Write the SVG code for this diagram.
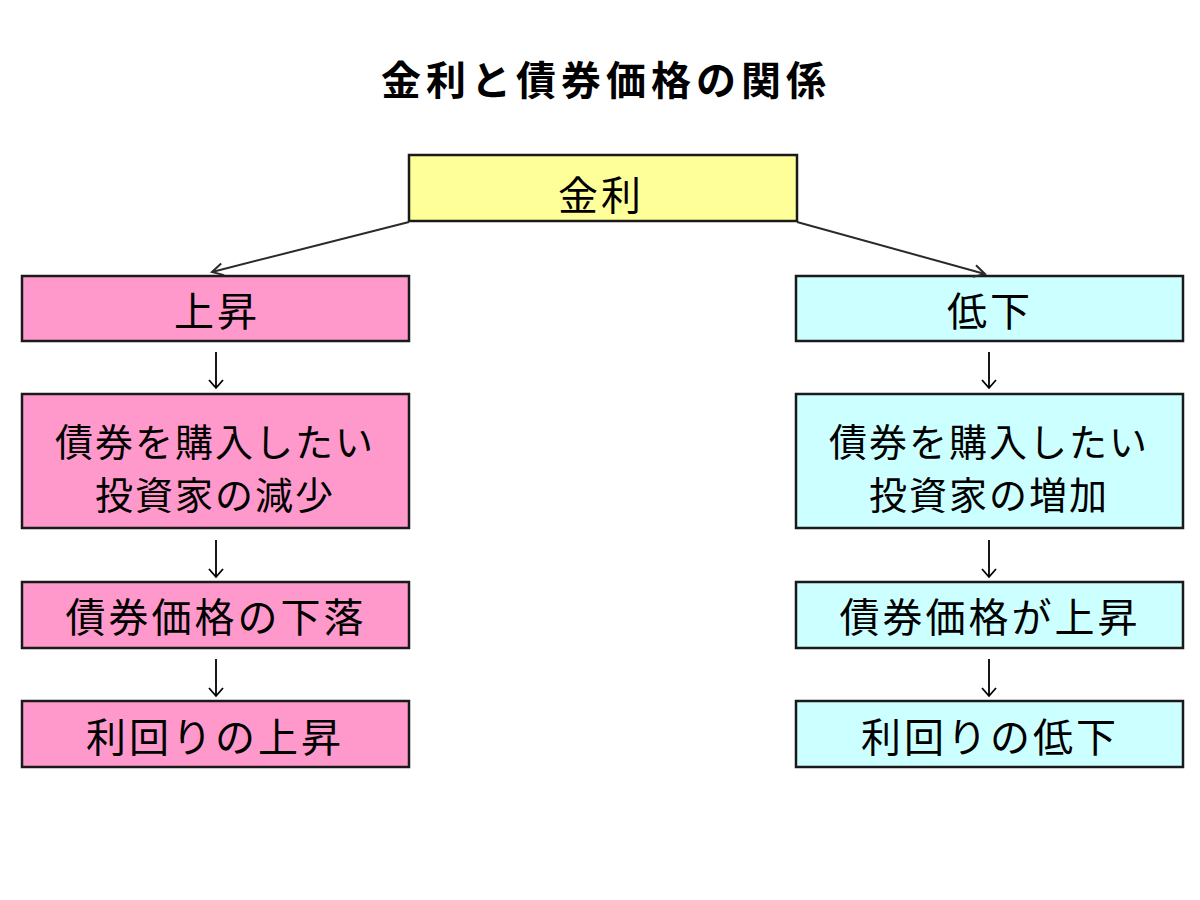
<svg xmlns="http://www.w3.org/2000/svg" width="1200" height="900" viewBox="0 0 1200 900">
<style>
.box{stroke:#1a1a1a;stroke-width:2.5}
.pink{fill:#FF99CC}
.cyan{fill:#CCFFFF}
.yellow{fill:#FFFF99}
.t{font-family:"Noto Sans CJK JP","Noto Sans CJK SC",sans-serif;font-size:40px;letter-spacing:3px;fill:#000;text-anchor:middle;dominant-baseline:central}
.t2{font-family:"Noto Sans CJK JP","Noto Sans CJK SC",sans-serif;font-size:38px;letter-spacing:2px;fill:#000;text-anchor:middle;dominant-baseline:central}
.title{font-family:"Noto Sans CJK JP","Noto Sans CJK SC",sans-serif;font-size:40px;font-weight:bold;letter-spacing:5px;fill:#000;text-anchor:middle;dominant-baseline:central}
.c{stroke:#2a2a2a;stroke-width:2;fill:none}
.s{stroke:#000;stroke-width:1.8;fill:none}
</style>
<defs>
<marker id="ah" markerWidth="16" markerHeight="16" refX="13" refY="8" orient="auto" markerUnits="userSpaceOnUse">
<path d="M2,2 L13,8 L2,14" fill="none" stroke="#2a2a2a" stroke-width="2"/>
</marker>
</defs>
<rect width="1200" height="900" fill="#fff"/>
<text class="title" x="606" y="78">金利と債券価格の関係</text>

<g id="n-kinri"><rect class="box yellow" x="409" y="155" width="388" height="66"/><text class="t" x="601" y="193">金利</text></g>

<g id="n-l1"><rect class="box pink" x="22" y="276" width="387" height="65"/><text class="t" x="217" y="309">上昇</text></g>
<g id="n-l2"><rect class="box pink" x="22" y="394" width="387" height="134"/><text class="t2" x="215" y="439">債券を購入したい</text><text class="t2" x="215" y="492">投資家の減少</text></g>
<g id="n-l3"><rect class="box pink" x="22" y="582" width="387" height="66"/><text class="t" x="216" y="615">債券価格の下落</text></g>
<g id="n-l4"><rect class="box pink" x="22" y="701" width="387" height="66"/><text class="t" x="215" y="735">利回りの上昇</text></g>

<g id="n-r1"><rect class="box cyan" x="796" y="276" width="387" height="65"/><text class="t" x="990" y="309">低下</text></g>
<g id="n-r2"><rect class="box cyan" x="796" y="394" width="387" height="134"/><text class="t2" x="989" y="439">債券を購入したい</text><text class="t2" x="989" y="492">投資家の増加</text></g>
<g id="n-r3"><rect class="box cyan" x="796" y="582" width="387" height="66"/><text class="t" x="990" y="615">債券価格が上昇</text></g>
<g id="n-r4"><rect class="box cyan" x="796" y="701" width="387" height="66"/><text class="t" x="990" y="735">利回りの低下</text></g>

<g id="connectors">
<line class="c" x1="409" y1="222" x2="212" y2="272" marker-end="url(#ah)"/>
<line class="c" x1="797" y1="222" x2="985" y2="274" marker-end="url(#ah)"/>
<path class="s" d="M216,352 V388 M209,380 L216,388 L223,380"/>
<path class="s" d="M216,540 V577 M209,569 L216,577 L223,569"/>
<path class="s" d="M216,659 V696 M209,688 L216,696 L223,688"/>
<path class="s" d="M989,352 V388 M982,380 L989,388 L996,380"/>
<path class="s" d="M989,540 V577 M982,569 L989,577 L996,569"/>
<path class="s" d="M989,659 V696 M982,688 L989,696 L996,688"/>
</g>
</svg>
